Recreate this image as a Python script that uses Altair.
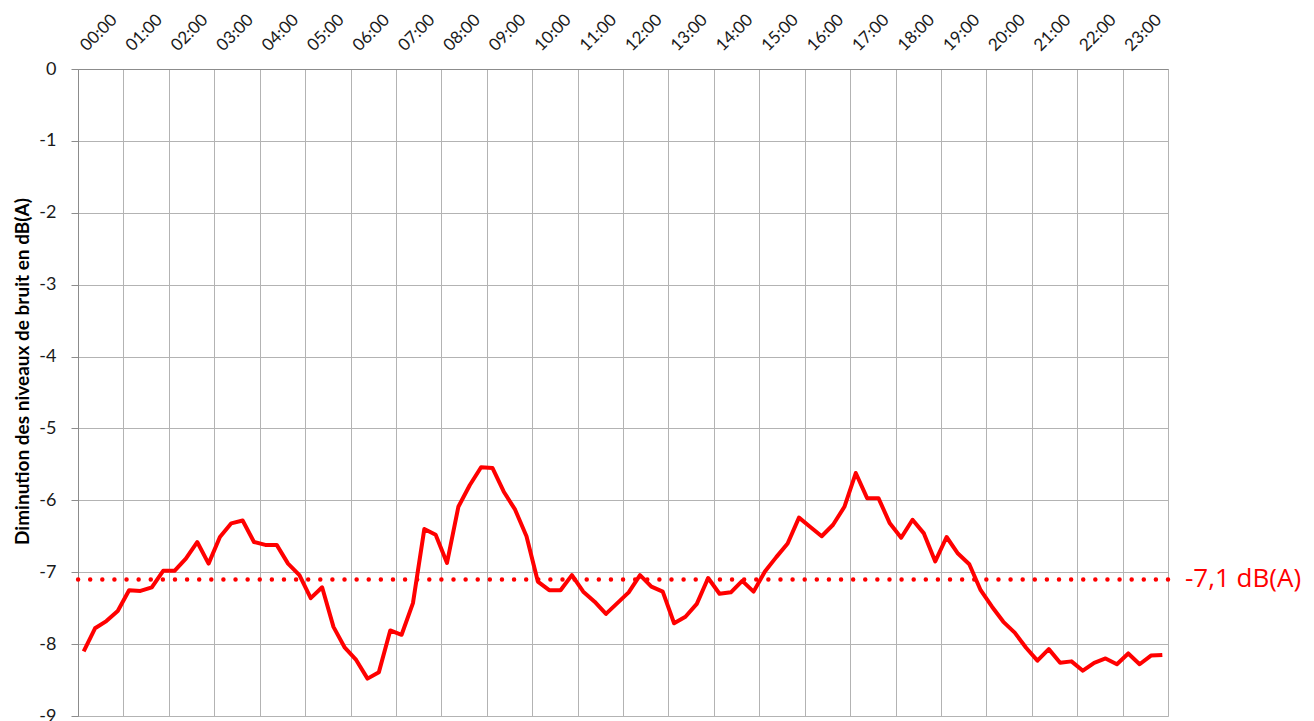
import altair as alt
import pandas as pd

# 15-minute readings (dB(A) reduction), 00:00 .. 23:45
levels = [
    -8.10, -7.78, -7.68, -7.54, -7.25, -7.26, -7.21, -6.98,
    -6.98, -6.81, -6.58, -6.88, -6.51, -6.32, -6.28, -6.58,
    -6.62, -6.62, -6.88, -7.04, -7.36, -7.21, -7.76, -8.05,
    -8.22, -8.48, -8.39, -7.81, -7.87, -7.43, -6.40, -6.48,
    -6.87, -6.09, -5.79, -5.54, -5.55, -5.88, -6.13, -6.50,
    -7.13, -7.25, -7.25, -7.04, -7.27, -7.41, -7.58, -7.43,
    -7.28, -7.04, -7.20, -7.27, -7.71, -7.62, -7.44, -7.08,
    -7.30, -7.28, -7.12, -7.27, -6.99, -6.79, -6.60, -6.24,
    -6.37, -6.50, -6.34, -6.09, -5.62, -5.97, -5.97, -6.32,
    -6.52, -6.27, -6.46, -6.85, -6.51, -6.74, -6.89, -7.25,
    -7.48, -7.69, -7.84, -8.05, -8.23, -8.07, -8.26, -8.24,
    -8.37, -8.26, -8.20, -8.28, -8.13, -8.28, -8.16, -8.15,
]
times = [f"{h:02d}:{m:02d}" for h in range(24) for m in (0, 15, 30, 45)]
hour_ticks = list(range(24))
y_ticks = list(range(0, -10, -1))
mean_level = -7.1
mean_label = "-7,1 dB(A)"
y_title = "Diminution des niveaux de bruit en dB(A)"
hours_in_day = 24

df = pd.DataFrame({"time": times, "level": levels})
# each 15-min reading is drawn at the centre of its quarter-hour slot
df["pos"] = [int(t[:2]) + int(t[3:]) / 60 + 0.125 for t in times]
mean_df = pd.DataFrame({"level": [mean_level], "label": [mean_label]})

GRID = "#B3B3B3"
FONT = "Lato"

x_enc = alt.X(
    "pos:Q",
    scale=alt.Scale(domain=[0, hours_in_day], nice=False, zero=False),
    axis=alt.Axis(
        orient="top",
        values=hour_ticks,
        labelExpr="(datum.value < 10 ? '0' : '') + datum.value + ':00'",
        labelAngle=315,
        labelAlign="left",
        labelBaseline="middle",
        labelOffset=5,
        labelPadding=21,
        ticks=False,
        grid=True,
        gridColor=GRID,
        gridWidth=1,
        domainColor="#8C8C8C",
        labelFont=FONT,
        labelFontSize=17,
        labelColor="#1a1a1a",
        labelOverlap=False,
        labelFlush=False,
        title=None,
    ),
)

y_enc = alt.Y(
    "level:Q",
    scale=alt.Scale(domain=[-9, 0], nice=False, zero=False),
    axis=alt.Axis(
        values=y_ticks,
        labelExpr="'' + datum.value",
        tickSize=7,
        tickColor="#8C8C8C",
        domainColor="#8C8C8C",
        grid=True,
        gridColor=GRID,
        labelPadding=15,
        labelFont=FONT,
        labelFontSize=18,
        labelColor="#1a1a1a",
        title=y_title,
        titleFont=FONT,
        titleFontSize=19,
        titleFontWeight="bold",
        titleColor="#000000",
        titleAngle=270,
        titleAlign="center",
        titleBaseline="middle",
        titleX=-56,
        titleY=302,
    ),
)

line = alt.Chart(df).mark_line(color="#FF0000", strokeWidth=4, strokeJoin="round").encode(
    x=x_enc, y=y_enc
)

rule = alt.Chart(mean_df).mark_rule(
    color="#FF0000", strokeWidth=4.5, strokeDash=[0.01, 12.1], strokeCap="round"
).encode(y=alt.Y("level:Q"))

label = alt.Chart(mean_df).mark_text(
    align="left", baseline="middle", dx=17, color="#FF0000", font="Open Sans", fontSize=26
).encode(x=alt.datum(hours_in_day), y=alt.Y("level:Q"), text="label:N")

chart = (
    alt.layer(line, rule, label)
    .properties(
        width=1090,
        height=647,
        autosize=alt.AutoSizeParams(type="none"),
        padding={"left": 70, "top": 61, "right": 138, "bottom": 12},
        background="#FFFFFF",
    )
    .configure_view(stroke=GRID, strokeWidth=1)
)

chart.save("out.html", embed_options={"renderer": "svg", "actions": False})
